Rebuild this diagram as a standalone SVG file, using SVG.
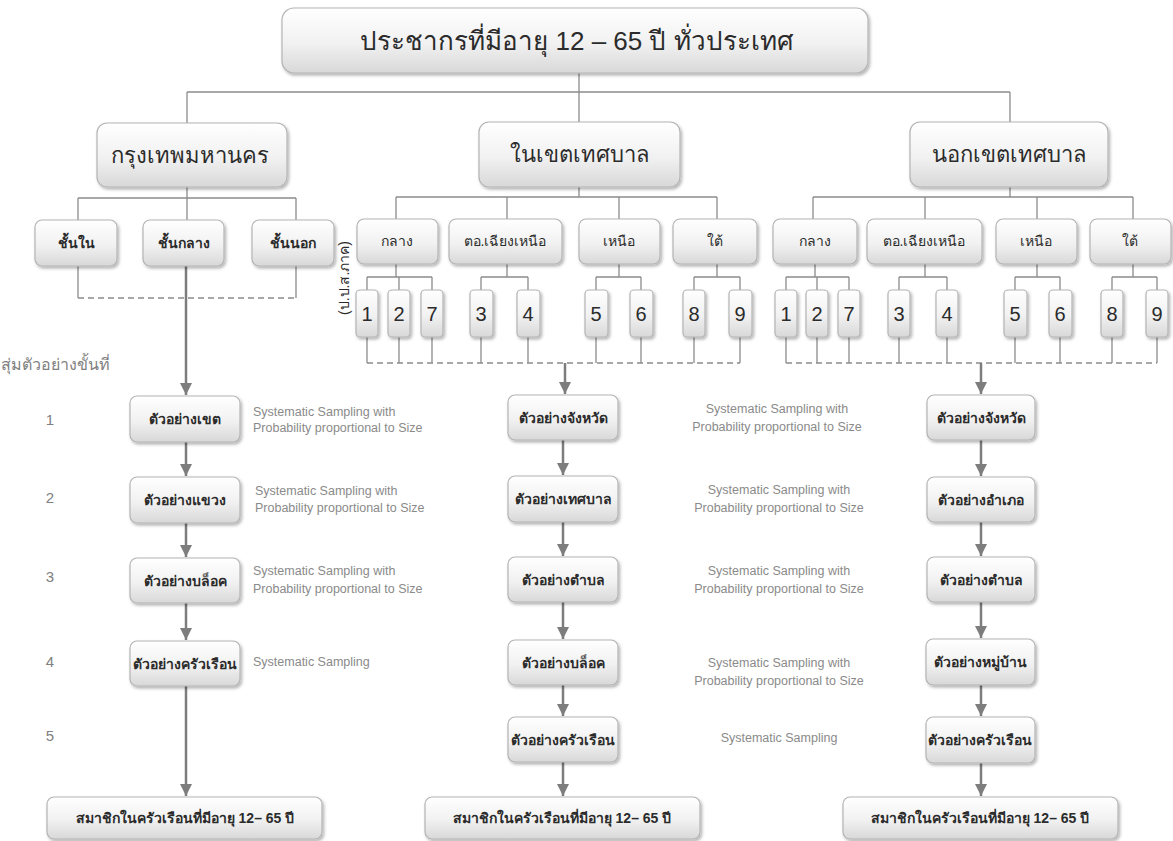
<svg xmlns="http://www.w3.org/2000/svg" width="1173" height="841" viewBox="0 0 1173 841">
<style>
.bx{fill:url(#g);stroke:#b4b4b4;stroke-width:1.2;filter:url(#sh)}
.t{font-family:"Liberation Sans","Noto Sans",sans-serif;fill:#2b2b2b;text-anchor:middle}
.tb{font-size:14px;font-weight:bold}
.ts{font-size:14px}
.tn{font-size:20px}
.lb{font-family:"Liberation Sans",sans-serif;font-size:12.5px;fill:#8a8a8a}
.st{font-family:"Liberation Sans",sans-serif;font-size:15px;fill:#808080;text-anchor:middle}
.c{stroke:#8c8c8c;stroke-width:1.3;fill:none}
.d{stroke:#8c8c8c;stroke-width:1.3;fill:none;stroke-dasharray:6 4}
.a{stroke:#7d7d7d;stroke-width:2.5;fill:none;marker-end:url(#ar)}
</style>
<defs>
<linearGradient id="g" x1="0" y1="0" x2="0" y2="1">
<stop offset="0" stop-color="#ffffff"/>
<stop offset="0.55" stop-color="#f1f1f1"/>
<stop offset="1" stop-color="#d8d8d8"/>
</linearGradient>
<filter id="sh" x="-10%" y="-10%" width="130%" height="140%">
<feDropShadow dx="1.5" dy="2" stdDeviation="1.5" flood-color="#000" flood-opacity="0.3"/>
</filter>
<marker id="ar" viewBox="0 0 10 10" refX="10" refY="5" markerWidth="5" markerHeight="5.5" orient="auto">
<path d="M0,0 L10,5 L0,10 z" fill="#7d7d7d"/>
</marker>
</defs>
<rect width="1173" height="841" fill="#ffffff"/>

<g id="connectors">
<path class="c" d="M579,73V92M187,92H1010M187,92V123M579,92V122M1010,92V122"/>
<path class="c" d="M187,187V198M78,198H296M78,198V220M187,198V220M296,198V220"/>
<path class="c" d="M78,266V298M296,266V298"/>
<path class="d" d="M78,298H296"/>
<path class="c" d="M579,187V197M396,197H717M396,197V219M507,197V219M619,197V219M717,197V219"/>
<path class="c" d="M396,264V277M367,277H432M367,277V290M399,277V290M432,277V290"/>
<path class="c" d="M507,264V277M481,277H528M481,277V290M528,277V290"/>
<path class="c" d="M619,264V277M596,277H641M596,277V290M641,277V290"/>
<path class="c" d="M717,264V277M694,277H740M694,277V290M740,277V290"/>
<path class="c" d="M367,337V363M399,337V363M432,337V363M481,337V363M528,337V363M596,337V363M641,337V363M694,337V363M740,337V363"/>
<path class="d" d="M367,363H740"/>
<path class="c" d="M1010,187V197M813,197H1133M813,197V219M925,197V219M1037,197V219M1133,197V219"/>
<path class="c" d="M815,264V277M786,277H849M786,277V290M817,277V290M849,277V290"/>
<path class="c" d="M925,264V277M899,277H947M899,277V290M947,277V290"/>
<path class="c" d="M1037,264V277M1015,277H1060M1015,277V290M1060,277V290"/>
<path class="c" d="M1133,264V277M1112,277H1157M1112,277V290M1157,277V290"/>
<path class="c" d="M786,337V363M817,337V363M849,337V363M899,337V363M947,337V363M1015,337V363M1060,337V363M1112,337V363M1157,337V363"/>
<path class="d" d="M786,363H1157"/>
<path class="a" d="M186,266V395"/>
<path class="a" d="M186,442V476"/>
<path class="a" d="M186,523V557"/>
<path class="a" d="M186,603V640"/>
<path class="a" d="M186,686V796"/>
<path class="a" d="M565,363V394"/>
<path class="a" d="M563,440V475"/>
<path class="a" d="M563,522V556"/>
<path class="a" d="M563,602V639"/>
<path class="a" d="M563,685V716"/>
<path class="a" d="M563,762V796"/>
<path class="a" d="M981,363V394"/>
<path class="a" d="M981,440V476"/>
<path class="a" d="M981,522V556"/>
<path class="a" d="M981,602V638"/>
<path class="a" d="M981,685V716"/>
<path class="a" d="M981,763V796"/>
</g>

<g id="n-top"><rect class="bx" x="282" y="8" width="586" height="65" rx="12"/><text class="t" x="577" y="50" font-size="26">ประชากรที่มีอายุ 12 – 65 ปี ทั่วประเทศ</text></g>

<g id="n-bkk"><rect class="bx" x="97" y="123" width="190" height="64" rx="10"/><text class="t" x="190" y="163" font-size="22">กรุงเทพมหานคร</text></g>
<g id="n-in"><rect class="bx" x="479" y="122" width="201" height="65" rx="10"/><text class="t" x="579" y="162" font-size="22">ในเขตเทศบาล</text></g>
<g id="n-out"><rect class="bx" x="910" y="122" width="198" height="65" rx="10"/><text class="t" x="1009" y="162" font-size="22">นอกเขตเทศบาล</text></g>

<g id="n-b1"><rect class="bx" x="35" y="220" width="82" height="46" rx="7"/><text class="t tb" x="76" y="248">ชั้นใน</text></g>
<g id="n-b2"><rect class="bx" x="143" y="220" width="81" height="46" rx="7"/><text class="t tb" x="184" y="248">ชั้นกลาง</text></g>
<g id="n-b3"><rect class="bx" x="252" y="220" width="82" height="46" rx="7"/><text class="t tb" x="293" y="248">ชั้นนอก</text></g>

<g id="n-m1"><rect class="bx" x="357" y="219" width="81" height="45" rx="7"/><text class="t ts" x="397" y="246">กลาง</text></g>
<g id="n-m2"><rect class="bx" x="449" y="219" width="113" height="45" rx="7"/><text class="t ts" x="505" y="246">ตอ.เฉียงเหนือ</text></g>
<g id="n-m3"><rect class="bx" x="579" y="219" width="81" height="45" rx="7"/><text class="t ts" x="619" y="246">เหนือ</text></g>
<g id="n-m4"><rect class="bx" x="673" y="219" width="84" height="45" rx="7"/><text class="t ts" x="715" y="246">ใต้</text></g>

<g id="n-o1"><rect class="bx" x="773" y="219" width="84" height="45" rx="7"/><text class="t ts" x="815" y="246">กลาง</text></g>
<g id="n-o2"><rect class="bx" x="867" y="219" width="115" height="45" rx="7"/><text class="t ts" x="924" y="246">ตอ.เฉียงเหนือ</text></g>
<g id="n-o3"><rect class="bx" x="996" y="219" width="81" height="45" rx="7"/><text class="t ts" x="1036" y="246">เหนือ</text></g>
<g id="n-o4"><rect class="bx" x="1090" y="219" width="81" height="45" rx="7"/><text class="t ts" x="1130" y="246">ใต้</text></g>

<text class="t" x="0" y="0" font-size="14" transform="translate(349,278) rotate(-90)">(ป.ป.ส.ภาค)</text>

<g id="n-mn1"><rect class="bx" x="356" y="290" width="22" height="47" rx="4"/><text class="t tn" x="367" y="321">1</text></g>
<g id="n-mn2"><rect class="bx" x="388" y="290" width="22" height="47" rx="4"/><text class="t tn" x="399" y="321">2</text></g>
<g id="n-mn7"><rect class="bx" x="421" y="290" width="22" height="47" rx="4"/><text class="t tn" x="432" y="321">7</text></g>
<g id="n-mn3"><rect class="bx" x="470" y="290" width="23" height="47" rx="4"/><text class="t tn" x="481" y="321">3</text></g>
<g id="n-mn4"><rect class="bx" x="517" y="290" width="23" height="47" rx="4"/><text class="t tn" x="528" y="321">4</text></g>
<g id="n-mn5"><rect class="bx" x="585" y="290" width="23" height="47" rx="4"/><text class="t tn" x="596" y="321">5</text></g>
<g id="n-mn6"><rect class="bx" x="630" y="290" width="23" height="47" rx="4"/><text class="t tn" x="641" y="321">6</text></g>
<g id="n-mn8"><rect class="bx" x="683" y="290" width="22" height="47" rx="4"/><text class="t tn" x="694" y="321">8</text></g>
<g id="n-mn9"><rect class="bx" x="729" y="290" width="23" height="47" rx="4"/><text class="t tn" x="740" y="321">9</text></g>

<g id="n-on1"><rect class="bx" x="775" y="290" width="22" height="47" rx="4"/><text class="t tn" x="786" y="321">1</text></g>
<g id="n-on2"><rect class="bx" x="806" y="290" width="22" height="47" rx="4"/><text class="t tn" x="817" y="321">2</text></g>
<g id="n-on7"><rect class="bx" x="838" y="290" width="22" height="47" rx="4"/><text class="t tn" x="849" y="321">7</text></g>
<g id="n-on3"><rect class="bx" x="888" y="290" width="22" height="47" rx="4"/><text class="t tn" x="899" y="321">3</text></g>
<g id="n-on4"><rect class="bx" x="936" y="290" width="22" height="47" rx="4"/><text class="t tn" x="947" y="321">4</text></g>
<g id="n-on5"><rect class="bx" x="1004" y="290" width="23" height="47" rx="4"/><text class="t tn" x="1015" y="321">5</text></g>
<g id="n-on6"><rect class="bx" x="1049" y="290" width="23" height="47" rx="4"/><text class="t tn" x="1060" y="321">6</text></g>
<g id="n-on8"><rect class="bx" x="1101" y="290" width="22" height="47" rx="4"/><text class="t tn" x="1112" y="321">8</text></g>
<g id="n-on9"><rect class="bx" x="1146" y="290" width="22" height="47" rx="4"/><text class="t tn" x="1157" y="321">9</text></g>

<text class="st" x="55" y="370" style="font-size:16px">สุ่มตัวอย่างขั้นที่</text>
<text class="st" x="50" y="425">1</text>
<text class="st" x="50" y="503">2</text>
<text class="st" x="50" y="582">3</text>
<text class="st" x="50" y="667">4</text>
<text class="st" x="50" y="741">5</text>

<g id="n-l1"><rect class="bx" x="130" y="396" width="110" height="46" rx="7"/><text class="t tb" x="185" y="424">ตัวอย่างเขต</text></g>
<g id="n-l2"><rect class="bx" x="130" y="477" width="110" height="46" rx="7"/><text class="t tb" x="185" y="505">ตัวอย่างแขวง</text></g>
<g id="n-l3"><rect class="bx" x="130" y="558" width="110" height="45" rx="7"/><text class="t tb" x="185" y="586">ตัวอย่างบล็อค</text></g>
<g id="n-l4"><rect class="bx" x="130" y="641" width="110" height="45" rx="7"/><text class="t tb" x="185" y="669">ตัวอย่างครัวเรือน</text></g>
<g id="n-l5"><rect class="bx" x="47" y="797" width="275" height="42" rx="7"/><text class="t tb" x="185" y="823">สมาชิกในครัวเรือนที่มีอายุ 12– 65 ปี</text></g>

<g id="n-c1"><rect class="bx" x="508" y="395" width="110" height="45" rx="7"/><text class="t tb" x="563" y="423">ตัวอย่างจังหวัด</text></g>
<g id="n-c2"><rect class="bx" x="508" y="476" width="110" height="46" rx="7"/><text class="t tb" x="563" y="504">ตัวอย่างเทศบาล</text></g>
<g id="n-c3"><rect class="bx" x="508" y="557" width="110" height="45" rx="7"/><text class="t tb" x="563" y="585">ตัวอย่างตำบล</text></g>
<g id="n-c4"><rect class="bx" x="508" y="640" width="110" height="45" rx="7"/><text class="t tb" x="563" y="668">ตัวอย่างบล็อค</text></g>
<g id="n-c5"><rect class="bx" x="508" y="717" width="110" height="45" rx="7"/><text class="t tb" x="563" y="745">ตัวอย่างครัวเรือน</text></g>
<g id="n-c6"><rect class="bx" x="425" y="797" width="275" height="42" rx="7"/><text class="t tb" x="562" y="823">สมาชิกในครัวเรือนที่มีอายุ 12– 65 ปี</text></g>

<g id="n-r1"><rect class="bx" x="927" y="395" width="108" height="45" rx="7"/><text class="t tb" x="981" y="423">ตัวอย่างจังหวัด</text></g>
<g id="n-r2"><rect class="bx" x="927" y="477" width="108" height="45" rx="7"/><text class="t tb" x="981" y="505">ตัวอย่างอำเภอ</text></g>
<g id="n-r3"><rect class="bx" x="927" y="557" width="108" height="45" rx="7"/><text class="t tb" x="981" y="585">ตัวอย่างตำบล</text></g>
<g id="n-r4"><rect class="bx" x="926" y="639" width="109" height="46" rx="7"/><text class="t tb" x="980" y="667">ตัวอย่างหมู่บ้าน</text></g>
<g id="n-r5"><rect class="bx" x="926" y="717" width="109" height="46" rx="7"/><text class="t tb" x="980" y="745">ตัวอย่างครัวเรือน</text></g>
<g id="n-r6"><rect class="bx" x="843" y="797" width="275" height="42" rx="7"/><text class="t tb" x="980" y="823">สมาชิกในครัวเรือนที่มีอายุ 12– 65 ปี</text></g>

<g id="labels-left">
<text class="lb" x="253" y="416">Systematic Sampling with</text>
<text class="lb" x="253" y="432">Probability proportional to Size</text>
<text class="lb" x="255" y="495">Systematic Sampling with</text>
<text class="lb" x="255" y="512">Probability proportional to Size</text>
<text class="lb" x="253" y="575">Systematic Sampling with</text>
<text class="lb" x="253" y="593">Probability proportional to Size</text>
<text class="lb" x="253" y="666">Systematic Sampling</text>
</g>
<g id="labels-mid" text-anchor="middle">
<text class="lb" x="777" y="413">Systematic Sampling with</text>
<text class="lb" x="777" y="431">Probability proportional to Size</text>
<text class="lb" x="779" y="494">Systematic Sampling with</text>
<text class="lb" x="779" y="512">Probability proportional to Size</text>
<text class="lb" x="779" y="575">Systematic Sampling with</text>
<text class="lb" x="779" y="593">Probability proportional to Size</text>
<text class="lb" x="779" y="667">Systematic Sampling with</text>
<text class="lb" x="779" y="685">Probability proportional to Size</text>
<text class="lb" x="779" y="742">Systematic Sampling</text>
</g>
</svg>
